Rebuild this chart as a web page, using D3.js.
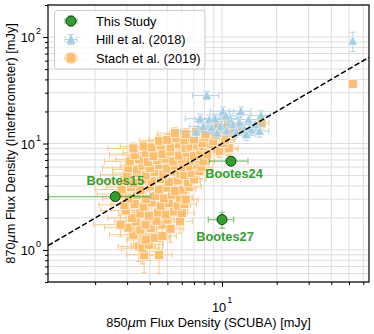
<!DOCTYPE html>
<html>
<head>
<meta charset="utf-8">
<script src="https://cdn.jsdelivr.net/npm/d3@7"></script>
<style>
  body { margin: 0; background: #fff; }
  svg text { font-family: 'Liberation Sans', Arial, sans-serif; }
</style>
</head>
<body>
<svg id="chart"></svg>
<script>
// ---- data (mJy) ----
const thisStudyNames = ['Bootes15', 'Bootes24', 'Bootes27'];
const thisStudyX = [2.58, 11.2, 10.0];
const thisStudyXErr = [1.47, 2.7, 1.6];
const thisStudyY = [3.17, 6.82, 1.93];
const thisStudyYErr = [0.2, 0.3, 0.33];

// Hill et al. (2018): [S850, S870, err850, err870]
const hillData = [
  [8.24, 28.3, 1.35, 2.6], [10.1, 20.1, 1.5, 2.0], [12.7, 20.1, 1.7, 2.0], [16.4, 18.3, 2.0, 2.0],
  [7.57, 17.1, 1.3, 1.8], [8.51, 16.8, 1.4, 1.8], [9.15, 17.1, 1.4, 1.8], [11.1, 17.1, 1.5, 1.8],
  [11.5, 15.1, 1.5, 1.7], [7.9, 14.5, 1.3, 1.6], [8.77, 14.1, 1.4, 1.6], [9.75, 14.5, 1.4, 1.6],
  [12.5, 15.7, 1.6, 1.7], [13.3, 13.5, 1.7, 1.6], [14.5, 13.5, 1.8, 1.6], [16.1, 13.1, 2.0, 1.6],
  [13.6, 12.2, 1.7, 1.5], [15.2, 15.1, 1.8, 1.7], [7.2, 12.9, 1.3, 1.5], [9.4, 12.6, 1.4, 1.5],
  [10.6, 13.2, 1.5, 1.5], [12.0, 12.8, 1.6, 1.5], [10.5, 18.2, 1.5, 1.9], [14.0, 16.8, 1.8, 1.8],
  [52.5, 92.0, 0.0, 19.0]
];

// Stach et al. (2019): [S850, S870, err850, err870]
const stachData = [
  [3.72, 0.90, 0.75, 0.29], [4.50, 0.90, 0.80, 0.30],
  [3.48, 1.08, 0.80, 0.30], [3.64, 1.04, 0.85, 0.30], [3.95, 1.12, 0.80, 0.32],
  [3.25, 1.39, 0.85, 0.35], [4.22, 1.30, 0.90, 0.33], [3.80, 1.25, 0.80, 0.33], [4.70, 1.35, 0.90, 0.35],
  [4.05, 1.61, 0.85, 0.38], [3.55, 1.55, 0.80, 0.36], [4.68, 1.73, 0.95, 0.40], [3.05, 1.62, 0.80, 0.38], [5.20, 1.58, 0.95, 0.40],
  [2.76, 1.73, 0.80, 0.40], [3.79, 1.73, 0.85, 0.40], [5.00, 1.93, 0.90, 0.42], [5.87, 1.86, 1.00, 0.42], [3.35, 1.85, 0.80, 0.40], [4.35, 1.88, 0.90, 0.42],
  [3.20, 2.00, 0.85, 0.45], [3.55, 2.20, 0.85, 0.45], [3.95, 2.10, 0.90, 0.45], [4.45, 2.25, 0.90, 0.48], [4.90, 2.15, 0.95, 0.46], [5.45, 2.30, 1.00, 0.48], [6.00, 2.23, 1.05, 0.48], [2.95, 2.35, 0.80, 0.48],
  [3.30, 2.70, 0.85, 0.50], [3.70, 2.55, 0.90, 0.50], [4.10, 2.80, 0.90, 0.52], [4.60, 2.60, 0.95, 0.50], [5.10, 2.75, 1.00, 0.52], [5.70, 2.60, 1.00, 0.52], [6.20, 2.70, 1.05, 0.55], [2.90, 2.65, 0.80, 0.50],
  [2.85, 3.35, 0.80, 0.55], [3.05, 3.05, 0.85, 0.55], [3.40, 3.30, 0.85, 0.58], [3.80, 3.00, 0.90, 0.55], [4.30, 3.20, 0.95, 0.58], [4.80, 3.05, 0.95, 0.58], [5.30, 3.30, 1.00, 0.60], [5.85, 3.10, 1.05, 0.60], [6.30, 2.97, 1.10, 0.58],
  [2.80, 3.70, 0.80, 0.60], [3.15, 3.90, 0.85, 0.62], [3.55, 3.65, 0.90, 0.60], [4.00, 3.95, 0.90, 0.65], [4.50, 3.70, 0.95, 0.62], [5.00, 3.85, 1.00, 0.65], [5.50, 3.60, 1.00, 0.62], [6.13, 3.69, 1.05, 0.65], [6.60, 3.90, 1.10, 0.68],
  [2.90, 4.50, 0.85, 0.70], [3.25, 4.27, 0.85, 0.68], [3.65, 4.60, 0.90, 0.72], [4.10, 4.40, 0.95, 0.70], [4.60, 4.65, 1.00, 0.72], [5.10, 4.35, 1.00, 0.70], [5.70, 4.50, 1.05, 0.72], [6.50, 4.30, 1.10, 0.70], [7.00, 4.60, 1.15, 0.75],
  [2.99, 5.10, 0.85, 0.75], [3.40, 5.30, 0.90, 0.78], [3.80, 5.00, 0.90, 0.75], [4.25, 5.40, 0.95, 0.80], [4.75, 5.10, 1.00, 0.78], [5.30, 5.45, 1.05, 0.80], [5.90, 5.20, 1.05, 0.78], [6.20, 5.05, 1.10, 0.78], [6.80, 5.30, 1.10, 0.80], [7.50, 5.50, 1.20, 0.82],
  [3.05, 5.90, 0.85, 0.80], [3.40, 5.70, 0.90, 0.80], [3.65, 6.20, 0.90, 0.85], [4.00, 5.90, 0.95, 0.82], [4.50, 6.30, 1.00, 0.88], [5.00, 5.80, 1.00, 0.82], [5.50, 6.20, 1.05, 0.85], [6.10, 6.00, 1.10, 0.85], [6.66, 6.10, 1.10, 0.88], [7.30, 6.30, 1.15, 0.90], [7.70, 6.00, 1.20, 0.88],
  [3.10, 6.80, 0.85, 0.90], [3.50, 7.10, 0.90, 0.95], [3.90, 6.70, 0.95, 0.90], [4.40, 7.00, 1.00, 0.95], [4.90, 7.20, 1.00, 0.98], [5.40, 6.80, 1.05, 0.92], [6.00, 7.10, 1.10, 0.95], [6.70, 6.90, 1.10, 0.95], [7.40, 7.20, 1.15, 1.00], [7.90, 6.80, 1.20, 0.95],
  [3.30, 7.80, 0.90, 1.00], [3.80, 8.20, 0.95, 1.05], [4.20, 7.60, 0.95, 1.00], [4.70, 8.00, 1.00, 1.05], [5.20, 8.40, 1.05, 1.10], [5.80, 7.70, 1.10, 1.02], [6.40, 8.20, 1.10, 1.08], [7.00, 7.60, 1.15, 1.02], [7.60, 8.50, 1.20, 1.10], [8.30, 7.90, 1.20, 1.05], [9.40, 8.80, 1.30, 1.15], [9.75, 8.50, 1.30, 1.12], [10.80, 8.80, 1.40, 1.15], [10.90, 9.10, 1.40, 1.20],
  [3.25, 9.00, 0.90, 1.15], [3.70, 9.40, 0.95, 1.20], [4.10, 9.20, 1.00, 1.18], [4.60, 9.60, 1.00, 1.22], [5.20, 9.20, 1.05, 1.20], [5.80, 9.80, 1.10, 1.25], [6.30, 9.10, 1.10, 1.18], [6.70, 9.40, 1.15, 1.22], [7.30, 9.60, 1.20, 1.25], [7.90, 9.40, 1.20, 1.22], [8.50, 9.90, 1.25, 1.28], [10.20, 10.10, 1.35, 1.30], [7.76, 10.10, 1.20, 1.30],
  [4.50, 10.60, 1.00, 1.35], [5.00, 10.80, 1.05, 1.38], [5.60, 11.20, 1.10, 1.42], [6.20, 10.70, 1.10, 1.38], [6.84, 11.30, 1.15, 1.45], [7.00, 10.90, 1.15, 1.40], [8.95, 10.50, 1.30, 1.38], [10.40, 10.90, 1.35, 1.42], [8.00, 11.50, 1.25, 1.45],
  [5.50, 12.50, 1.10, 1.55], [6.30, 12.30, 1.15, 1.52], [7.20, 12.80, 1.20, 1.58], [8.10, 12.20, 1.25, 1.52], [9.20, 12.10, 1.30, 1.52], [11.50, 12.50, 1.40, 1.58],
  [10.80, 14.90, 1.40, 1.80], [12.60, 14.00, 1.50, 1.70], [16.50, 15.50, 1.60, 1.85], [9.50, 14.30, 1.35, 1.75],
  [52.5, 36.4, 0.0, 0.0]
];

const xDomain = [1.1, 64.5];
const yDomain = [0.5, 200];

const legendLabels = ['This Study', 'Hill et al. (2018)', 'Stach et al. (2019)'];

class FluxChart {

  constructor(_config) {
    this.config = {
      parentElement: _config.parentElement,
      containerWidth: _config.containerWidth || 374,
      containerHeight: _config.containerHeight || 334,
    };
    this.config.margin = _config.margin || { top: 5, bottom: 52, right: 5, left: 48 };
    this.initVis();
  }

  initVis() {
    let vis = this;
    const m = vis.config.margin;
    vis.width = vis.config.containerWidth - m.left - m.right;
    vis.height = vis.config.containerHeight - m.top - m.bottom;

    vis.x = d3.scaleLog().domain(xDomain).range([0, vis.width]);
    vis.y = d3.scaleLog().domain(yDomain).range([vis.height, 0]);

    vis.svg = d3.select(vis.config.parentElement)
      .attr('width', vis.config.containerWidth)
      .attr('height', vis.config.containerHeight);

    vis.g = vis.svg.append('g')
      .attr('transform', `translate(${m.left},${m.top})`);

    vis.g.append('clipPath').attr('id', 'plot-clip')
      .append('rect').attr('width', vis.width).attr('height', vis.height);

    vis.colors = { green: '#33a02c', blue: '#a6cee3', orange: '#fdbf6f' };
  }

  errPath(d, cap) {
    let vis = this;
    const cx = vis.x(d[0]), cy = vis.y(d[1]);
    const x0 = vis.x(Math.max(d[0] - d[2], 1e-3)), x1 = vis.x(d[0] + d[2]);
    const y0 = vis.y(Math.max(d[1] - d[3], 1e-3)), y1 = vis.y(d[1] + d[3]);
    return `M${x0},${cy}H${x1}M${cx},${y0}V${y1}` +
      `M${x0},${cy - cap}V${cy + cap}M${x1},${cy - cap}V${cy + cap}` +
      `M${cx - cap},${y0}H${cx + cap}M${cx - cap},${y1}H${cx + cap}`;
  }

  render() {
    let vis = this;
    const ticksX = vis.x.ticks();
    const ticksY = vis.y.ticks();
    const isMajor = v => Math.abs(Math.log10(v) - Math.round(Math.log10(v))) < 1e-9;

    // grid
    const grid = vis.g.append('g').attr('class', 'grid');
    grid.selectAll('line.gx').data(ticksX).join('line')
      .attr('class', 'gx')
      .attr('x1', d => vis.x(d)).attr('x2', d => vis.x(d))
      .attr('y1', 0).attr('y2', vis.height);
    grid.selectAll('line.gy').data(ticksY).join('line')
      .attr('class', 'gy')
      .attr('y1', d => vis.y(d)).attr('y2', d => vis.y(d))
      .attr('x1', 0).attr('x2', vis.width);
    grid.selectAll('line').attr('stroke', '#dedede').attr('stroke-width', 1);

    const plot = vis.g.append('g').attr('clip-path', 'url(#plot-clip)');

    // Stach et al. (2019)
    plot.append('g').selectAll('path').data(stachData).join('path')
      .attr('d', d => vis.errPath(d, 3))
      .attr('fill', 'none').attr('stroke', vis.colors.orange)
      .attr('stroke-opacity', 0.8).attr('stroke-width', 1);
    plot.append('g').selectAll('rect').data(stachData).join('rect')
      .attr('x', d => vis.x(d[0]) - 4.5).attr('y', d => vis.y(d[1]) - 4.5)
      .attr('width', 9).attr('height', 9)
      .attr('fill', vis.colors.orange)
      .attr('stroke', '#fff').attr('stroke-opacity', 0.8).attr('stroke-width', 0.8);

    // Hill et al. (2018)
    const tri = 'M0,-4.8L-4.8,4.2L4.8,4.2Z';
    plot.append('g').selectAll('path').data(hillData).join('path')
      .attr('d', d => vis.errPath(d, 3))
      .attr('fill', 'none').attr('stroke', vis.colors.blue)
      .attr('stroke-opacity', 0.85).attr('stroke-width', 1);
    plot.append('g').selectAll('path').data(hillData).join('path')
      .attr('d', tri)
      .attr('transform', d => `translate(${vis.x(d[0])},${vis.y(d[1])})`)
      .attr('fill', vis.colors.blue)
      .attr('stroke', '#fff').attr('stroke-opacity', 0.7).attr('stroke-width', 0.6);

    // 1:1 line
    plot.append('path')
      .datum(xDomain)
      .attr('d', d3.line().x(d => vis.x(d)).y(d => vis.y(d)))
      .attr('fill', 'none').attr('stroke', '#000')
      .attr('stroke-width', 1.5).attr('stroke-dasharray', '5.5,2.4');

    // This Study
    const ours = thisStudyNames.map((n, i) =>
      [thisStudyX[i], thisStudyY[i], thisStudyXErr[i], thisStudyYErr[i], n]);
    plot.append('g').selectAll('path').data(ours).join('path')
      .attr('d', d => vis.errPath(d, 3))
      .attr('fill', 'none').attr('stroke', vis.colors.green)
      .attr('stroke-opacity', 0.6).attr('stroke-width', 1.2);
    plot.append('g').selectAll('circle').data(ours).join('circle')
      .attr('cx', d => vis.x(d[0])).attr('cy', d => vis.y(d[1])).attr('r', 5)
      .attr('fill', vis.colors.green).attr('stroke', '#123d0e').attr('stroke-width', 1);

    const labelDy = { Bootes15: -12, Bootes24: 17, Bootes27: 21 };
    const labelDx = { Bootes15: 0, Bootes24: 3, Bootes27: 3 };
    vis.g.append('g').selectAll('text').data(ours).join('text')
      .attr('x', d => vis.x(d[0]) + labelDx[d[4]])
      .attr('y', d => vis.y(d[1]) + labelDy[d[4]])
      .attr('text-anchor', 'middle')
      .attr('font-size', 12.8).attr('font-weight', 'bold')
      .attr('fill', vis.colors.green)
      .text(d => d[4]);

    // ticks
    const xAxisG = vis.g.append('g').attr('transform', `translate(0,${vis.height})`);
    xAxisG.call(d3.axisBottom(vis.x).tickValues(ticksX.filter(isMajor)).tickSize(5).tickFormat(''));
    xAxisG.append('g').call(d3.axisBottom(vis.x).tickValues(ticksX.filter(v => !isMajor(v))).tickSize(3).tickFormat(''));
    const yAxisG = vis.g.append('g');
    yAxisG.call(d3.axisLeft(vis.y).tickValues(ticksY.filter(isMajor)).tickSize(5).tickFormat(''));
    yAxisG.append('g').call(d3.axisLeft(vis.y).tickValues(ticksY.filter(v => !isMajor(v))).tickSize(3).tickFormat(''));
    vis.g.selectAll('.domain').remove();
    vis.g.selectAll('.tick line').attr('stroke', '#000').attr('stroke-width', 1);

    // tick labels with superscripts
    ticksX.filter(isMajor).forEach(v => {
      const t = xAxisG.append('text')
        .attr('x', vis.x(v)).attr('y', 30)
        .attr('text-anchor', 'middle').attr('font-size', 12.8).attr('fill', '#000')
        .text('10');
      t.append('tspan').attr('dy', -9).attr('dx', 1).attr('font-size', 9).text(Math.round(Math.log10(v)));
    });
    ticksY.filter(isMajor).forEach(v => {
      const t = yAxisG.append('text')
        .attr('x', -7).attr('y', vis.y(v) + 5)
        .attr('text-anchor', 'end').attr('font-size', 12.8).attr('fill', '#000')
        .text('10');
      t.append('tspan').attr('dy', -8).attr('dx', 1).attr('font-size', 9).text(Math.round(Math.log10(v)));
    });

    // frame
    vis.g.append('rect')
      .attr('width', vis.width).attr('height', vis.height)
      .attr('fill', 'none').attr('stroke', '#000').attr('stroke-width', 1.2);

    // axis labels
    const xl = vis.g.append('text')
      .attr('x', vis.width / 2).attr('y', vis.height + 44.5)
      .attr('text-anchor', 'middle').attr('font-size', 12.8).attr('fill', '#000')
      .text('850');
    xl.append('tspan').attr('font-family', 'DejaVu Sans').attr('font-style', 'italic').text('μ');
    xl.append('tspan').text('m Flux Density (SCUBA) [mJy]');

    const yl = vis.svg.append('text')
      .attr('transform', `translate(14.5,${vis.config.margin.top + vis.height / 2}) rotate(-90)`)
      .attr('text-anchor', 'middle').attr('font-size', 12.8).attr('fill', '#000')
      .text('870');
    yl.append('tspan').attr('font-family', 'DejaVu Sans').attr('font-style', 'italic').text('μ');
    yl.append('tspan').text('m Flux Density (Interferometer) [mJy]');

    vis.renderLegend();
  }

  renderLegend() {
    let vis = this;
    const lg = vis.svg.append('g').attr('transform', 'translate(54.5,10.5)');
    lg.append('rect')
      .attr('width', 150.5).attr('height', 58.5).attr('rx', 3)
      .attr('fill', '#fff').attr('fill-opacity', 0.8)
      .attr('stroke', '#cccccc').attr('stroke-width', 1);

    const rowY = [10.5, 29, 47.5];
    const mx = 16.5;
    const cols = [vis.colors.green, vis.colors.blue, vis.colors.orange];
    legendLabels.forEach((label, i) => {
      const row = lg.append('g').attr('transform', `translate(${mx},${rowY[i]})`);
      row.append('path')
        .attr('d', 'M-6,0H6M-6,-3V3M6,-3V3M0,-5V5M-3,-5H3M-3,5H3')
        .attr('fill', 'none').attr('stroke', cols[i])
        .attr('stroke-opacity', i === 0 ? 0.6 : 0.85).attr('stroke-width', 1);
      if (i === 0) {
        row.append('circle').attr('r', 5)
          .attr('fill', cols[i]).attr('stroke', '#123d0e').attr('stroke-width', 1);
      } else if (i === 1) {
        row.append('path').attr('d', 'M0,-4.8L-4.8,4.2L4.8,4.2Z').attr('fill', cols[i]);
      } else {
        row.append('rect').attr('x', -4.5).attr('y', -4.5).attr('width', 9).attr('height', 9)
          .attr('fill', cols[i]);
      }
      lg.append('text')
        .attr('x', 41.5).attr('y', rowY[i] + 4.6)
        .attr('font-size', 12.8).attr('fill', '#000')
        .text(label);
    });
  }
}

const chart = new FluxChart({ parentElement: '#chart' });
chart.render();
</script>
</body>
</html>
